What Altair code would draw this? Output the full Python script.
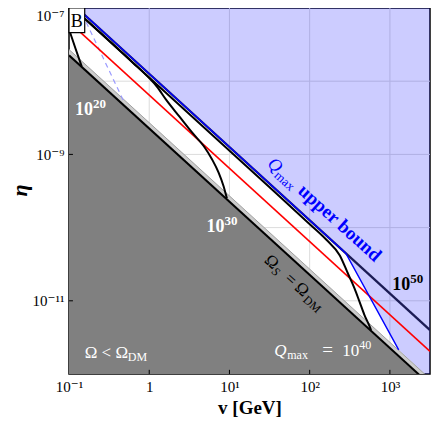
import altair as alt
import pandas as pd

FONT = "Liberation Serif, DejaVu Serif, serif"

# ---------------- data ----------------
# axis
x_tick_values = [0.1, 1, 10, 100, 1000]
x_tick_labels = ["10⁻¹", "1", "10¹", "10²", "10³"]
y_tick_values = [1e-11, 1e-9, 1e-7]
y_tick_labels = ["10⁻¹¹", "10⁻⁹", "10⁻⁷"]
x_grid = [1, 10, 100, 1000]
y_grid = [1e-8, 1e-9, 1e-10, 1e-11]

# straight boundaries (eta ~ 1/v)
v_span = [0.1, 3162.0]
eta_dm_line = [2.26e-8, 7.16e-13]      # Omega_S = Omega_DM
eta_band_top = [2.71e-8, 8.57e-13]     # top of light-grey band
eta_red = [6.46e-8, 2.04e-12]
v_q50 = [0.126, 3162.0]
eta_q50 = [1.0e-7, 3.98e-12]
v_upper = [0.126, 281.8, 1288.0]
eta_upper = [1.0e-7, 4.47e-11, 2.14e-12]
v_blue_fill = [0.1, 281.8, 1288.0, 3162.0]
eta_blue_fill = [1.26e-7, 4.47e-11, 2.14e-12, 8.57e-13]
v_dashed = [0.164, 0.485]
eta_dashed = [6.38e-8, 5.21e-9]

# Q = const curves
v_q20 = [0.1, 0.1202, 0.1442]
eta_q20 = [5.13e-8, 2.82e-8, 1.585e-8]
v_q30 = [0.1175, 0.631, 1.0, 1.23, 1.629, 2.371, 3.459, 4.797, 6.081, 7.328, 8.433, 9.29]
eta_q30 = [9.55e-8, 1.778e-8, 1.10e-8, 8.6e-9, 5.55e-9, 3.30e-9, 1.963e-9, 1.291e-9,
           8.53e-10, 5.64e-10, 3.707e-10, 2.512e-10]
v_q40 = [0.1175, 31.62, 92.68, 162.9, 237.7, 299.9, 362.2, 417.8, 480.8, 553.4, 582.1]
eta_q40 = [9.55e-8, 3.548e-10, 1.202e-10, 6.76e-11, 4.17e-11, 2.36e-11, 1.479e-11,
           9.75e-12, 6.43e-12, 4.57e-12, 3.98e-12]

# ---------------- scales / encodings ----------------
def label_expr(values, labels):
    pairs = sorted(zip(values, labels))
    expr = f"'{pairs[-1][1]}'"
    for i in range(len(pairs) - 2, -1, -1):
        thr = (pairs[i][0] * pairs[i + 1][0]) ** 0.5
        expr = f"datum.value < {thr:.4e} ? '{pairs[i][1]}' : ({expr})"
    return expr

xscale = alt.Scale(type="log", domain=[0.1, 3162.0], nice=False)
yscale = alt.Scale(type="log", domain=[1e-12, 1e-7], nice=False)

xaxis = alt.Axis(values=x_tick_values, labelExpr=label_expr(x_tick_values, x_tick_labels),
                 grid=False, ticks=False, tickSize=0, domain=False,
                 labelFont=FONT, labelFontSize=15, labelColor="black", labelPadding=5,
                 labelFlush=False, title="v [GeV]", titleFont=FONT, titleFontSize=19,
                 titleFontWeight="bold", titleColor="black", titlePadding=4)
yaxis = alt.Axis(values=y_tick_values, labelExpr=label_expr(y_tick_values, y_tick_labels),
                 grid=False, ticks=False, tickSize=0, domain=False,
                 labelFont=FONT, labelFontSize=15, labelColor="black", labelPadding=5,
                 labelFlush=True, title="η", titleFont=FONT, titleFontSize=22,
                 titleFontWeight="bold", titleFontStyle="italic", titleColor="black",
                 titleX=-50, titleY=182, titleAlign="center", titleBaseline="middle")

X = alt.X("v:Q", scale=xscale, axis=xaxis)
Y = alt.Y("eta:Q", scale=yscale, axis=yaxis)
X2 = alt.X2("v2:Q")
Y2 = alt.Y2("eta2:Q")


def line(vs, etas, color, width, dash=None, interp="linear"):
    df = pd.DataFrame({"v": vs, "eta": etas, "o": list(range(len(vs)))})
    kw = dict(clip=True, color=color, strokeWidth=width, interpolate=interp)
    if dash:
        kw["strokeDash"] = dash
    return alt.Chart(df).mark_line(**kw).encode(x=X, y=Y, order="o:Q")


def area(vs, etas, etas2, color, opacity=1.0):
    df = pd.DataFrame({"v": vs, "eta": etas, "eta2": etas2})
    return alt.Chart(df).mark_area(clip=True, color=color, opacity=opacity).encode(x=X, y=Y, y2=Y2)


def piece(txt, v, eta, dx=0, dy=0, size=17, color="black", weight="normal",
          style="normal", angle=0, align="left", baseline="alphabetic"):
    df = pd.DataFrame({"v": [v], "eta": [eta], "t": [txt]})
    return alt.Chart(df).mark_text(
        dx=dx, dy=dy, fontSize=size, color=color, fontWeight=weight, fontStyle=style,
        angle=angle, align=align, baseline=baseline, font=FONT
    ).encode(x=X, y=Y, text="t:N")


layers = []
# grid
layers.append(alt.Chart(pd.DataFrame({"v": x_grid})).mark_rule(color="#dcdcdc", strokeWidth=1).encode(x=X))
layers.append(alt.Chart(pd.DataFrame({"eta": y_grid})).mark_rule(color="#dcdcdc", strokeWidth=1).encode(y=Y))
# regions
layers.append(area(v_blue_fill, eta_blue_fill, [1e-6] * len(v_blue_fill), "#0000ff", 0.2))
layers.append(area(v_span, eta_dm_line, [1e-13, 1e-13], "#808080"))
layers.append(area(v_span, eta_band_top, eta_dm_line, "#cccccc"))
layers.append(line(v_span, eta_band_top, "#a0a0a0", 1))
layers.append(line(v_span, eta_dm_line, "black", 2))
# lines
layers.append(line(v_dashed, eta_dashed, "#9a9aff", 1.2, dash=[5, 4]))
layers.append(line(v_span, eta_red, "#ff0000", 1.5))
layers.append(line(v_q20, eta_q20, "black", 2, interp="monotone"))
layers.append(line(v_q30, eta_q30, "black", 2, interp="monotone"))
layers.append(line(v_q40, eta_q40, "black", 2, interp="monotone"))
layers.append(line(v_q50, eta_q50, "#1c1c55", 2.2))
layers.append(line(v_upper, eta_upper, "#0000ff", 1.4))

# annotations
W = "white"
layers += [
    piece("Ω < Ω", 0.157, 1.66e-12, size=17, color=W),
    piece("DM", 0.157, 1.66e-12, dx=43, dy=3, size=12, color=W),
    piece("Q", 36.2, 1.77e-12, size=17, color=W, style="italic"),
    piece("max", 36.2, 1.77e-12, dx=13, dy=3, size=12, color=W),
    piece("=", 36.2, 1.77e-12, dx=48, size=19, color=W),
    piece("10", 36.2, 1.77e-12, dx=68, size=17, color=W),
    piece("40", 36.2, 1.77e-12, dx=85, dy=-7, size=12, color=W),
    piece("10", 0.1184, 3.47e-9, size=18, color=W, weight="bold"),
    piece("20", 0.1184, 3.47e-9, dx=18, dy=-7, size=13, color=W, weight="bold"),
    piece("10", 5.18, 8.75e-11, size=18, color=W, weight="bold"),
    piece("30", 5.18, 8.75e-11, dx=18, dy=-7, size=13, color=W, weight="bold"),
    piece("10", 1067, 1.39e-11, size=18, color="black", weight="bold"),
    piece("50", 1067, 1.39e-11, dx=18, dy=-7, size=13, color="black", weight="bold"),
    piece("Q", 28.9, 7.18e-10, size=18, color="#0000ff", style="italic", angle=42),
    piece("max", 28.9, 7.18e-10, dx=13, dy=4, size=13, color="#0000ff", angle=42),
    piece("upper bound", 28.9, 7.18e-10, dx=41, size=19, color="#0000ff", weight="bold", angle=42),
    piece("Ω", 26.5, 3.43e-11, size=17, angle=42),
    piece("S", 26.5, 3.43e-11, dx=13, dy=3, size=12, style="italic", angle=42),
    piece("=", 26.5, 3.43e-11, dx=27.5, size=17, angle=42),
    piece("Ω", 26.5, 3.43e-11, dx=41, size=17, angle=42),
    piece("DM", 26.5, 3.43e-11, dx=55, dy=3, size=12, angle=42),
]

# "B" box
box = pd.DataFrame({"v": [0.1], "v2": [0.157], "eta": [1e-7], "eta2": [4.62e-8]})
layers.append(alt.Chart(box).mark_rect(fill="white", stroke="black", strokeWidth=1.2).encode(x=X, x2=X2, y=Y, y2=Y2))
layers.append(piece("B", 0.125, 6.52e-8, size=18, align="center", baseline="middle"))

# inward ticks
xt = pd.DataFrame({"v": x_grid, "eta": [1e-12] * 4, "eta2": [1.14e-12] * 4})
layers.append(alt.Chart(xt).mark_rule(color="black", strokeWidth=1).encode(x=X, y=Y, y2=Y2))
yt = pd.DataFrame({"eta": [1e-9, 1e-11], "v": [0.1, 0.1], "v2": [0.112, 0.112]})
layers.append(alt.Chart(yt).mark_rule(color="black", strokeWidth=1).encode(y=Y, x=X, x2=X2))

chart = alt.layer(*layers).properties(
    width=361, height=366,
    autosize=alt.AutoSizeParams(type="none"),
    padding={"left": 61, "top": 0, "right": 1, "bottom": 51},
).configure_view(stroke="black", strokeWidth=1.5)

chart.save("out.html", embed_options={"renderer": "svg", "actions": False})
